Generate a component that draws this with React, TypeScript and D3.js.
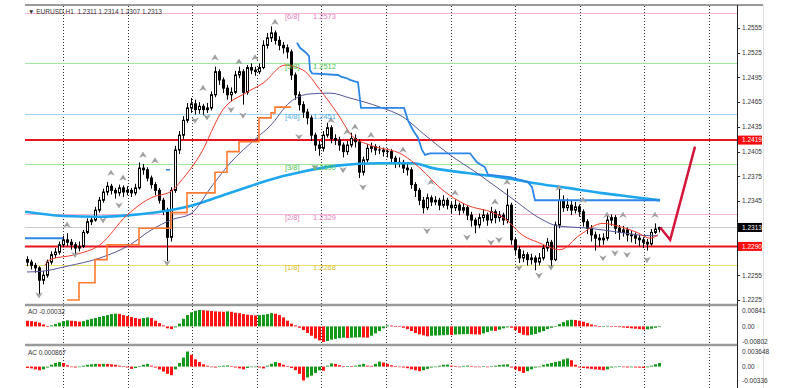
import * as d3 from 'd3';

const W = 800;
const H = 388;

const header = '▼ EURUSD,H1  1.2311 1.2314 1.2307 1.2313';

// H1 bars, open = previous close
const firstOpen = 1.2274;
const closes = [
  1.2271, 1.2267, 1.2264, 1.2249, 1.2255, 1.2271, 1.228, 1.2283, 1.2292, 1.2298,
  1.2295, 1.2292, 1.2288, 1.229, 1.2307, 1.232, 1.2322, 1.2334, 1.2346, 1.2356,
  1.2363, 1.2358, 1.2355, 1.2361, 1.2356, 1.2358, 1.2355, 1.2361, 1.2385, 1.2383,
  1.2373, 1.2365, 1.2358, 1.2346, 1.2334, 1.2301, 1.2358, 1.2407, 1.2425, 1.2443,
  1.2458, 1.2463, 1.2456, 1.246, 1.2456, 1.2458, 1.2474, 1.2502, 1.2492, 1.2482,
  1.2474, 1.2477, 1.2498, 1.2502, 1.2477, 1.2507, 1.2504, 1.2502, 1.2507, 1.2534,
  1.2543, 1.2549, 1.254, 1.2534, 1.2531, 1.2526, 1.2498, 1.2474, 1.2462, 1.2453,
  1.2446, 1.2425, 1.2413, 1.2409, 1.2425, 1.2434, 1.2421, 1.2419, 1.2413, 1.2405,
  1.2413, 1.2421, 1.2417, 1.238, 1.2395, 1.2409, 1.2411, 1.2407, 1.2407, 1.2405,
  1.2405, 1.2397, 1.2391, 1.2392, 1.2385, 1.2383, 1.2365, 1.2358, 1.2346, 1.2337,
  1.2349, 1.2344, 1.2346, 1.234, 1.2346, 1.234, 1.2337, 1.234, 1.2334, 1.2337,
  1.2328, 1.2322, 1.2316, 1.2325, 1.2328, 1.2322, 1.2332, 1.2325, 1.2328, 1.2322,
  1.234, 1.2298, 1.2286, 1.2276, 1.228, 1.2274, 1.2276, 1.2271, 1.2276, 1.2288,
  1.2295, 1.2274, 1.2316, 1.2346, 1.2337, 1.234, 1.2334, 1.2338, 1.2332, 1.232,
  1.2312, 1.2304, 1.23, 1.2298, 1.23, 1.2322, 1.2325, 1.2312, 1.2307, 1.231,
  1.2304, 1.2303, 1.23, 1.2298, 1.2295, 1.2293, 1.2307, 1.2311, 1.2313,
];
const highs = [
  1.2278, 1.2274, 1.227, 1.2266, 1.226, 1.2274, 1.2284, 1.2288, 1.2296, 1.2303,
  1.2306, 1.2299, 1.2295, 1.2296, 1.231, 1.2324, 1.2327, 1.2338, 1.235, 1.236,
  1.2368, 1.2366, 1.2361, 1.2365, 1.2364, 1.2363, 1.2361, 1.2366, 1.2392, 1.239,
  1.2386, 1.2376, 1.2368, 1.2361, 1.2349, 1.2337, 1.2362, 1.2412, 1.243, 1.2448,
  1.2464, 1.247, 1.2468, 1.2465, 1.2463, 1.2464, 1.2478, 1.2508, 1.2505, 1.2495,
  1.2486, 1.2483, 1.2503, 1.2508, 1.2505, 1.251, 1.2512, 1.2508, 1.2512, 1.254,
  1.2549, 1.2557, 1.2552, 1.2545, 1.2538, 1.2535, 1.2529, 1.2501, 1.2478, 1.2466,
  1.2457, 1.2449, 1.2428, 1.2418, 1.243, 1.244, 1.2437, 1.2426, 1.2423, 1.2416,
  1.2418, 1.2428, 1.2426, 1.242, 1.2399, 1.2414, 1.2416, 1.2414, 1.2412, 1.241,
  1.2409, 1.2408, 1.24, 1.2398, 1.2395, 1.239, 1.2386, 1.2368, 1.2361, 1.235,
  1.2354, 1.2352, 1.2351, 1.2349, 1.2352, 1.2349, 1.2344, 1.2347, 1.2343, 1.2342,
  1.234, 1.2332, 1.2325, 1.233, 1.2335, 1.2331, 1.2338, 1.2335, 1.2333, 1.2331,
  1.236, 1.2343, 1.2301, 1.229, 1.2285, 1.2283, 1.2281, 1.2279, 1.2282, 1.2292,
  1.23, 1.2298, 1.232, 1.2362, 1.2352, 1.2348, 1.2345, 1.2344, 1.2341, 1.2335,
  1.2323, 1.2316, 1.2308, 1.2305, 1.2306, 1.233, 1.2329, 1.2328, 1.2316, 1.2315,
  1.2313, 1.2309, 1.2307, 1.2304, 1.2301, 1.2299, 1.2311, 1.2318, 1.2314,
];
const lows = [
  1.2266, 1.2262, 1.2258, 1.2232, 1.2244, 1.2252, 1.2268, 1.2276, 1.228, 1.2289,
  1.229, 1.2286, 1.228, 1.2284, 1.2288, 1.2305, 1.2316, 1.232, 1.2331, 1.2343,
  1.2352, 1.2353, 1.2348, 1.2351, 1.235, 1.2352, 1.235, 1.2352, 1.2359, 1.2377,
  1.2369, 1.236, 1.2352, 1.2342, 1.2328, 1.2272, 1.2296, 1.2355, 1.2402, 1.242,
  1.244, 1.2452, 1.245, 1.2451, 1.2449, 1.2452, 1.2455, 1.2471, 1.2486, 1.2476,
  1.2468, 1.2466, 1.2475, 1.2494, 1.2462, 1.2474, 1.2499, 1.2497, 1.2499, 1.2505,
  1.253, 1.2538, 1.2535, 1.2528, 1.2524, 1.2518, 1.2492, 1.2468, 1.2455, 1.2446,
  1.2438, 1.2418, 1.2406, 1.24, 1.2405, 1.2422, 1.2415, 1.2413, 1.2406, 1.2398,
  1.2401, 1.241, 1.241, 1.2373, 1.2376, 1.2392, 1.2404, 1.2401, 1.2402, 1.2399,
  1.2398, 1.2392, 1.2385, 1.2386, 1.2379, 1.2376, 1.236, 1.235, 1.234, 1.233,
  1.2334, 1.2339, 1.234, 1.2334, 1.2337, 1.2335, 1.233, 1.2333, 1.2328, 1.233,
  1.2322, 1.2314, 1.2306, 1.2312, 1.232, 1.2315, 1.2318, 1.2318, 1.232, 1.2316,
  1.2318, 1.2292, 1.228, 1.227, 1.2271, 1.2267, 1.2268, 1.2261, 1.2267, 1.2273,
  1.2284, 1.2266, 1.2272, 1.2312, 1.2332, 1.2333, 1.2328, 1.233, 1.2326, 1.2314,
  1.2305, 1.2296, 1.2285, 1.229, 1.2292, 1.2297, 1.2315, 1.2305, 1.2298, 1.2302,
  1.2296, 1.2295, 1.2293, 1.229, 1.2288, 1.2285, 1.2291, 1.2305, 1.2307,
];

// Awesome Oscillator
const aoValues = [
  0.0029, 0.0027, 0.0024, 0.0019, 0.001, 0.0002, 0.0005, 0.0012, 0.0019, 0.0027,
  0.0031, 0.0029, 0.0027, 0.0024, 0.0027, 0.0034, 0.0039, 0.0043, 0.0048, 0.0053,
  0.0058, 0.0063, 0.0065, 0.0064, 0.0058, 0.0053, 0.0048, 0.0043, 0.0039, 0.0043,
  0.0046, 0.0043, 0.0029, 0.0017, 0.0005, -0.001, -0.0014, -0.0005, 0.0014, 0.0039,
  0.0058, 0.0072, 0.008, 0.00841, 0.0083, 0.0081, 0.0079, 0.0077, 0.0076, 0.0075,
  0.0077, 0.0075, 0.007, 0.0068, 0.0063, 0.006, 0.0058, 0.0056, 0.0058, 0.006,
  0.0063, 0.0068, 0.0065, 0.0058, 0.0046, 0.0029, 0.0014, 0.0005, -0.0007, -0.0019,
  -0.0034, -0.0048, -0.0062, -0.0072, -0.00802, -0.0075, -0.0068, -0.0064, -0.0061, -0.0058,
  -0.006, -0.0058, -0.0057, -0.0056, -0.0057, -0.0058, -0.0048, -0.0036, -0.0024, -0.001,
  0.0005, 0.0004, 0.0001, -0.0002, -0.0007, -0.0014, -0.0024, -0.0034, -0.0041, -0.0046,
  -0.0051, -0.0048, -0.0047, -0.0046, -0.0045, -0.0043, -0.0044, -0.0042, -0.0041, -0.004,
  -0.0039, -0.004, -0.0041, -0.0042, -0.0036, -0.0029, -0.0022, -0.0023, -0.0017, -0.001,
  -0.0005, -0.0007, -0.0019, -0.0034, -0.0043, -0.0046, -0.0043, -0.0039, -0.0031, -0.0024,
  -0.0014, -0.0007, 0.0002, 0.0012, 0.0022, 0.0031, 0.0034, 0.0033, 0.0029, 0.0024,
  0.0017, 0.001, 0.0005, 0.0001, 0.0002, 0.0003, 0.0001, -0.0001, -0.0004, -0.0006,
  -0.0008, -0.001, -0.0012, -0.0014, -0.0016, -0.0015, -0.0012, -0.0007, -0.00032,
];

// Accelerator Oscillator
const acValues = [
  -0.00033, -0.00044, -0.00066, -0.00088, -0.00066, -0.00022, 0.00044, 0.00088, 0.0011, 0.00088,
  0.00033, -0.00011, -0.00022, -0.00011, 0.00022, 0.00044, 0.00055, 0.00066, 0.00061, 0.00066,
  0.00064, 0.00055, 0.00044, 0.00022, 0.00004, -0.00022, -0.00055, -0.00033, 0.00011, 0.00044,
  0.00066, 0.00022, -0.00022, -0.00066, -0.0012, -0.00175, -0.00208, -0.00066, 0.00088, 0.00219,
  0.003648, 0.00285, 0.00175, 0.0011, 0.00055, 0.00022, -0.00011, -0.00022, 0.00011, 0.00022,
  0.00026, 0.00007, -0.00022, -0.00044, -0.00066, -0.00033, -0.00011, -0.00007, -0.00022, -0.00044,
  0.00022, 0.00066, 0.0011, 0.00088, 0.00044, 0.00011, -0.00033, -0.00088, -0.00175, -0.00336,
  -0.00263, -0.00219, -0.00153, -0.00088, -0.00099, 0.00022, 0.00077, 0.00066, 0.00033, 0.00004,
  0.00011, 0.00007, 0.00022, 0.00044, 0.00066, 0.00022, 0.00018, 0.00066, 0.0012, 0.00099,
  0.00066, 0.00033, 0.00011, 0, -0.00022, -0.00039, -0.00066, -0.00088, -0.0011, -0.00088,
  -0.00055, -0.00022, 0, 0.00022, 0.00044, 0.00048, 0.00022, 0.00007, 0, 0.00018,
  0.00022, 0.00007, 0, -0.00007, 0.00007, 0, 0.00011, 0.00022, 0.00039, 0.00048,
  0.00055, -0.00022, -0.00066, -0.0011, -0.00153, -0.0011, -0.00066, -0.00022, 0, 0.00044,
  0.00066, 0.00088, 0.0011, 0.00131, 0.00175, 0.00197, 0.00153, 0.00044, -0.00022, -0.00033,
  -0.00044, -0.00055, -0.00066, -0.00077, -0.00088, -0.00066, -0.00022, 0, 0.00007, -0.00011,
  -0.00022, -0.00018, -0.00022, -0.00026, -0.00033, -0.00018, 0.00022, 0.00055, 0.000867,
];

// indicator lines: [bar, price]
const fastMa: [number, number][] = [
  [4.5, 1.2267], [5.75, 1.2274], [12, 1.228], [18.25, 1.2292], [25, 1.2328], [31.5, 1.235],
  [35.75, 1.2356], [38.75, 1.2371], [43.25, 1.2401], [49, 1.2456], [55, 1.2477], [59, 1.2488],
  [64.5, 1.251], [69, 1.2504], [73.25, 1.248], [77.5, 1.2452], [81.5, 1.2423], [85.75, 1.2413],
  [94, 1.2401], [98.25, 1.2385], [104, 1.2358], [110, 1.234], [116.5, 1.2331], [120, 1.2322],
  [123.25, 1.2306], [128.25, 1.2294], [133.25, 1.2286], [138.25, 1.2304], [144, 1.2318],
  [148.25, 1.2314], [152.5, 1.2307], [155.75, 1.23], [157.75, 1.2304],
];
const slowMa: [number, number][] = [
  [0, 1.2259], [4, 1.226], [10, 1.2266], [18.25, 1.2276], [25.75, 1.2292], [30.75, 1.2309],
  [36.5, 1.2323], [40.75, 1.2329], [46.5, 1.2365], [50.75, 1.2391], [57.5, 1.2422], [60.75, 1.2436],
  [65.75, 1.2465], [70.75, 1.2475], [75.75, 1.2476], [80.75, 1.247], [88.25, 1.2459], [94, 1.2447],
  [99.5, 1.2425], [105.75, 1.2401], [112.5, 1.2379], [120.75, 1.235], [129, 1.2322],
  [132.5, 1.2315], [140.75, 1.2312], [148.25, 1.2307], [155.75, 1.2303], [157.75, 1.2303],
];
const longMa: [number, number][] = [
  [-0.5, 1.2332], [9, 1.2327], [18.25, 1.2326], [25.75, 1.2328], [34.5, 1.2333], [40.75, 1.2339],
  [49, 1.2352], [55.75, 1.2363], [60.75, 1.2371], [68.25, 1.238], [77.5, 1.2388], [88.25, 1.2391],
  [96.5, 1.2391], [101.5, 1.2385], [110, 1.2379], [118.25, 1.2374], [126.5, 1.2367], [135, 1.2361],
  [143.25, 1.2355], [151.5, 1.235], [158.25, 1.2346],
];
const stopSteps: [number, number][] = [
  [10, 1.2225], [13, 1.2246], [17, 1.2274], [20, 1.2292], [28, 1.2312], [36, 1.2331], [40, 1.2355],
  [47, 1.238], [50, 1.2405], [53, 1.2417], [58, 1.2446], [61, 1.2452], [62, 1.2459], [66, 1.2459],
];
const trailLine: [number, number][] = [
  [67.5, 1.2537], [68.25, 1.2531], [69.75, 1.2525], [70.5, 1.2521], [70.75, 1.2504], [71.25, 1.25],
  [77.75, 1.2498], [78.5, 1.2496], [80, 1.2494], [80.75, 1.2492], [82.75, 1.2489], [83.5, 1.2458],
  [94.25, 1.2458], [95.25, 1.2443], [96.5, 1.2431], [97.75, 1.2422], [98.75, 1.2407], [99.5, 1.2401],
  [100.75, 1.2403], [110.75, 1.2403], [112.5, 1.2392], [114.5, 1.2386], [115.25, 1.2377],
  [120.75, 1.2374], [125.25, 1.2368], [126.25, 1.2362], [127, 1.2346], [158.25, 1.2346],
];
const trailLeft: [number, number][] = [[-0.5, 1.23], [9, 1.23]];
const trailDash: [number, number][] = [[34.75, 1.2383], [35.75, 1.2383]];

const fractalsUp: [number, number][] = [
  [10, 1.2316], [21, 1.2379], [24, 1.2373], [29, 1.2401], [32, 1.2394], [44, 1.2482], [47, 1.2519],
  [53, 1.2514], [57, 1.2519], [62, 1.2562], [76, 1.2443], [80, 1.2429], [82, 1.2435], [86, 1.2425],
  [94, 1.2407], [101, 1.2368], [107, 1.2355], [117, 1.2344], [120, 1.2368], [133, 1.2361],
  [139, 1.2346], [145, 1.2328], [149, 1.2328], [157, 1.2328],
];
const fractalsDown: [number, number][] = [
  [3, 1.2231], [12, 1.228], [19, 1.2322], [23, 1.234], [35, 1.227], [42, 1.2443], [45, 1.2447],
  [51, 1.2456], [54, 1.2449], [68, 1.2423], [72, 1.2386], [79, 1.2383], [84, 1.2362], [100, 1.2309],
  [110, 1.2301], [116, 1.2295], [118, 1.2298], [123, 1.2264], [128, 1.2255], [131, 1.2265],
  [144, 1.2276], [147, 1.2282], [150, 1.228], [155, 1.2274],
];

const forecast: [number, number][] = [[158.3, 1.2313], [160.8, 1.2298], [167, 1.2411]];

const murreyLevels = [1.2573, 1.2512, 1.2451, 1.239, 1.2329, 1.2268];
const murreyNames = ['[6/8]', '[5/8]', '[4/8]', '[3/8]', '[2/8]', '[1/8]'];
const redLevels = [1.2419, 1.229];
const lastPrice = 1.2313;
const priceTicks = [1.2555, 1.2525, 1.2495, 1.2465, 1.2435, 1.2405, 1.2375, 1.2345, 1.2255, 1.2225];
const timeGrid = [9, 25.2, 41.3, 57.5, 73.5, 89.8, 106, 122, 138.3, 154.3, 170.5];
const aoTicks = [0.00841, 0, -0.00802];
const aoTickLabels = ['0.00841', '0.00', '-0.00802'];
const acTicks = [0.003648, 0, -0.00336];
const acTickLabels = ['0.003648', '0.00', '-0.00336'];

const murreyLine = ['#f4b4d2', '#9ee49e', '#a2d4f2', '#9ee49e', '#f4b4d2', '#f0de70'];
const murreyText = ['#e482bc', '#4ec44e', '#4eaae6', '#4ec44e', '#e482bc', '#dcbc28'];
const GREEN = '#13981a';
const RED = '#ff1414';
const FONT = 'Liberation Sans, Arial, sans-serif';

export default function App() {
  const left = 25;
  const right = 737;
  const x = d3.scaleLinear().domain([0, 158]).range([27, 659]);
  const y = d3.scaleLinear().domain([1.2225, 1.2555]).range([300, 28]);
  const aoY = d3.scaleLinear().domain([-0.00802, 0.00841]).range([342, 310]);
  const acY = d3.scaleLinear().domain([-0.00336, 0.003648]).range([380.5, 351.5]);

  const line = (curve: d3.CurveFactory) =>
    d3.line<[number, number]>().x(d => x(d[0])).y(d => y(d[1])).curve(curve);

  const hist = (vals: number[], sc: d3.ScaleLinear<number, number>) =>
    vals.map((v, i) => {
      const prev = i === 0 ? v + 1 : vals[i - 1];
      const cx = Math.round(x(i));
      const y0 = sc(0);
      const y1 = sc(v);
      return (
        <rect key={i} x={cx - 1} width={3} y={Math.min(y0, y1)} height={Math.max(0.6, Math.abs(y1 - y0))}
          fill={v > prev ? GREEN : RED} />
      );
    });

  const upPath = 'M0,-3.4 L3.8,2.8 L0,1 L-3.8,2.8 Z';
  const downPath = 'M0,3.4 L3.8,-2.8 L0,-1 L-3.8,-2.8 Z';

  return (
    <svg width={W} height={H} style={{ position: 'absolute', left: 0, top: 0, background: '#fff' }}
      fontFamily={FONT}>
      <defs>
        <clipPath id="main"><rect x={left} y={6} width={right - left} height={298} /></clipPath>
      </defs>
      <rect width={W} height={H} fill="#fff" />

      {/* time grid */}
      {timeGrid.map((b, i) => (
        <line key={i} x1={Math.round(x(b)) + 0.5} x2={Math.round(x(b)) + 0.5} y1={6} y2={H}
          stroke="#333" strokeDasharray="1,2" />
      ))}

      <g clipPath="url(#main)">
        {murreyLevels.map((p, i) => (
          <line key={i} x1={left} x2={right} y1={Math.round(y(p)) + 0.5} y2={Math.round(y(p)) + 0.5}
            stroke={murreyLine[i]} strokeWidth={1.2} />
        ))}
        <line x1={left} x2={right} y1={Math.round(y(lastPrice)) + 0.5} y2={Math.round(y(lastPrice)) + 0.5}
          stroke="#c8c8c8" />
        {redLevels.map((p, i) => (
          <line key={i} x1={left} x2={right} y1={y(p)} y2={y(p)} stroke="#e8141e" strokeWidth={2} />
        ))}

        {/* candles */}
        {closes.map((c, i) => {
          const o = i === 0 ? firstOpen : closes[i - 1];
          const hi = Math.max(highs[i], o, c);
          const lo = Math.min(lows[i], o, c);
          const cx = Math.round(x(i));
          const top = y(Math.max(o, c));
          const bot = y(Math.min(o, c));
          const bull = c > o;
          return (
            <g key={i}>
              <line x1={cx + 0.5} x2={cx + 0.5} y1={y(hi)} y2={y(lo)} stroke="#000" />
              {bull ? (
                <rect x={cx - 0.5} y={top} width={2} height={Math.max(0.5, bot - top)} fill="#fff"
                  stroke="#000" strokeWidth={1} />
              ) : (
                <rect x={cx - 1} y={top - 0.5} width={3} height={Math.max(1, bot - top + 1)} fill="#000" />
              )}
            </g>
          );
        })}

        <path d={line(d3.curveMonotoneX)(longMa) ?? ''} fill="none" stroke="#1ea6ee" strokeWidth={2.6} />
        <path d={line(d3.curveMonotoneX)(slowMa) ?? ''} fill="none" stroke="#55559a" strokeWidth={1} />
        <path d={line(d3.curveMonotoneX)(fastMa) ?? ''} fill="none" stroke="#f03a2a" strokeWidth={1} />
        <path d={line(d3.curveStepAfter)(stopSteps) ?? ''} fill="none" stroke="#ff7a30" strokeWidth={1.6} />
        <path d={line(d3.curveLinear)(trailLine) ?? ''} fill="none" stroke="#2b86e6" strokeWidth={1.8} />
        <path d={line(d3.curveLinear)(trailLeft) ?? ''} fill="none" stroke="#2b86e6" strokeWidth={2} />
        <path d={line(d3.curveLinear)(trailDash) ?? ''} fill="none" stroke="#2b86e6" strokeWidth={1.5} />

        {fractalsUp.map(([b, p], i) => (
          <path key={'u' + i} d={upPath} transform={`translate(${x(b)},${y(p)})`} fill="#a0a0a0" />
        ))}
        {fractalsDown.map(([b, p], i) => (
          <path key={'d' + i} d={downPath} transform={`translate(${x(b)},${y(p)})`} fill="#a0a0a0" />
        ))}

        {murreyLevels.map((p, i) => (
          <g key={i} fontSize={7.5} fill={murreyText[i]}>
            <text x={x(64.5)} y={y(p) + 5.5}>{murreyNames[i]}</text>
            <text x={x(71.5)} y={y(p) + 5.5}>{p.toFixed(4)}</text>
          </g>
        ))}
      </g>

      {/* forecast arrow */}
      <path d={line(d3.curveLinear)(forecast) ?? ''} fill="none" stroke="#d4163c" strokeWidth={2.5}
        strokeLinejoin="miter" />

      {/* oscillators */}
      <g>{hist(aoValues, aoY)}</g>
      <g>{hist(acValues, acY)}</g>

      <text x={28} y={14} fontSize={6.5} fill="#333" xmlSpace="preserve">{header}</text>
      <text x={28} y={314} fontSize={6.5} fill="#333">AO -0.00032</text>
      <text x={28} y={355} fontSize={6.5} fill="#333">AC 0.000867</text>

      {/* frame */}
      <line x1={left} x2={763} y1={5} y2={5} stroke="#9a9a9a" strokeWidth={2} />
      <line x1={left} x2={right} y1={305} y2={305} stroke="#9a9a9a" strokeWidth={2.5} />
      <line x1={left} x2={right} y1={345} y2={345} stroke="#9a9a9a" strokeWidth={2.5} />
      <line x1={right + 0.5} x2={right + 0.5} y1={5} y2={H} stroke="#222" />
      <line x1={763.5} x2={763.5} y1={5} y2={H} stroke="#e2e2e2" />

      {/* price axis */}
      {priceTicks.map((p, i) => (
        <g key={i}>
          <line x1={right} x2={right + 3} y1={Math.round(y(p)) + 0.5} y2={Math.round(y(p)) + 0.5} stroke="#222" />
          <text x={742} y={y(p) + 2.3} fontSize={6.5} fill="#333">{p.toFixed(4)}</text>
        </g>
      ))}
      {redLevels.map((p, i) => (
        <g key={i}>
          <rect x={right + 1} y={y(p) - 4.5} width={24} height={9} fill="#ff0a0a" />
          <text x={742} y={y(p) + 2.3} fontSize={6.5} fill="#fff">{p.toFixed(4)}</text>
        </g>
      ))}
      <rect x={right + 1} y={y(lastPrice) - 4.5} width={24} height={9} fill="#000" />
      <text x={742} y={y(lastPrice) + 2.3} fontSize={6.5} fill="#fff">{lastPrice.toFixed(4)}</text>

      {aoTicks.map((v, i) => (
        <text key={i} x={742} y={aoY(v) + 2.5 + (i === 0 ? 0.5 : i === 2 ? -1 : 0)} fontSize={6.5} fill="#333">
          {aoTickLabels[i]}
        </text>
      ))}
      {acTicks.map((v, i) => (
        <text key={i} x={742} y={acY(v) + 2.5} fontSize={6.5} fill="#333">{acTickLabels[i]}</text>
      ))}
    </svg>
  );
}
